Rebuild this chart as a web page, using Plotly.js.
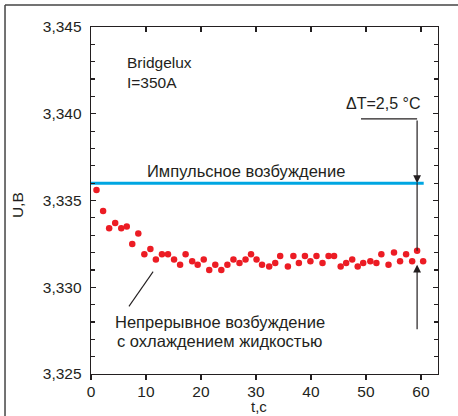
<!DOCTYPE html>
<html>
<head>
<meta charset="utf-8">
<script src="https://cdn.plot.ly/plotly-3.0.1.min.js"></script>
<style>
  html, body { margin: 0; padding: 0; background: #fff; }
  #chart { width: 458px; height: 416px; }
</style>
</head>
<body>
<div id="chart"></div>
<script>
// ---- data ----
const tSeries = [1.0, 2.2, 3.3, 4.4, 5.5, 6.5, 7.5, 8.6, 9.7, 10.8,
  11.8, 12.9, 14.0, 15.1, 16.2, 17.2, 18.4, 19.4, 20.5,
  21.5, 22.6, 23.7, 24.8, 25.9, 27.0, 28.1, 29.1, 30.1, 31.1,
  32.4, 33.5, 34.4, 35.8, 36.8, 37.8, 38.9, 39.9,
  41.0, 42.1, 43.2, 44.2, 45.4, 46.4, 47.5, 48.5, 49.5,
  50.8, 51.9, 52.8, 54.1, 55.1, 56.2, 57.3, 58.4, 59.3, 60.4];
const uContinuous = [3.3356, 3.3344, 3.3334, 3.3337, 3.3334, 3.3335, 3.3325, 3.3331, 3.3319, 3.3322,
  3.3316, 3.3319, 3.3319, 3.3316, 3.3313, 3.3319, 3.3315, 3.3313, 3.3316,
  3.3310, 3.3313, 3.3310, 3.3313, 3.3316, 3.3314, 3.3316, 3.3319, 3.3316, 3.3313,
  3.3312, 3.3314, 3.3318, 3.3312, 3.3318, 3.3314, 3.3318, 3.3315,
  3.3318, 3.3314, 3.3318, 3.3318, 3.3312, 3.3314, 3.3316, 3.3312, 3.3314,
  3.3315, 3.3314, 3.3319, 3.3313, 3.3320, 3.3315, 3.3319, 3.3315, 3.3321, 3.3315];
const tPulse = [0, 60.5];
const uPulse = [3.3360, 3.3360];

const xTicks = [0, 10, 20, 30, 40, 50, 60];
const yTicks = [3.325, 3.330, 3.335, 3.340, 3.345];

// annotation anchor values (data units)
const deltaT = { t: 59.3, uTop: 3.3397, uPulse: 3.3360, uDot: 3.3321, uArrowTip: 3.3313, uArrowTail: 3.3275, tLeft: 49.1 };
const leader = { t0: 6.9, u0: 3.3289, t1: 11.3, u1: 3.3309 };

const FONT = 'Liberation Sans, Arial, Helvetica, sans-serif';
const INK = '#231f20';
const FS = 15.5;
const FS_RU = 16.5;

const traces = [
  { x: tPulse, y: uPulse, mode: 'lines', line: { color: '#00a6e2', width: 3 },
    hoverinfo: 'skip', showlegend: false },
  { x: tSeries, y: uContinuous, mode: 'markers',
    marker: { color: '#ec1c24', size: 6.5, line: { width: 0 } },
    hoverinfo: 'skip', showlegend: false },
  { x: [0], y: [3.336], xaxis: 'x2', mode: 'none', hoverinfo: 'skip', showlegend: false }
];

const axisCommon = {
  showgrid: false, zeroline: false, showline: true,
  linecolor: INK, linewidth: 1.3, tickcolor: INK, tickwidth: 1.2,
  tickfont: { family: FONT, size: FS, color: INK }
};

const layout = {
  width: 458, height: 416,
  margin: { l: 91, r: 20, t: 27, b: 42, pad: 0 },
  paper_bgcolor: '#fff', plot_bgcolor: '#fff',
  separators: ',.',
  font: { family: FONT, size: FS, color: INK },
  showlegend: false,
  xaxis: Object.assign({}, axisCommon, {
    range: [0, 63.1], tickvals: xTicks, ticktext: xTicks.map(String),
    ticks: 'outside', ticklen: 5, mirror: false, ticklabelstandoff: -2
  }),
  xaxis2: Object.assign({}, axisCommon, {
    overlaying: 'x', side: 'top', range: [0, 63.1], tickvals: xTicks,
    ticks: 'inside', ticklen: 5, showticklabels: false
  }),
  yaxis: Object.assign({}, axisCommon, {
    range: [3.325, 3.345], tickvals: yTicks, tickformat: '.3f',
    ticks: 'inside', ticklen: 5, mirror: 'ticks', ticklabelstandoff: 5,
    minor: { dtick: 0.001, tick0: 3.325, ticks: 'inside', ticklen: 4, tickcolor: INK, tickwidth: 1.2 }
  }),
  shapes: [
    // outer frame (top & left only)
    { type: 'line', xref: 'paper', yref: 'paper', x0: -0.2478, x1: 1.1, y0: 1.0634, y1: 1.0634,
      line: { color: '#444', width: 1.5 } },
    { type: 'line', xref: 'paper', yref: 'paper', x0: -0.2478, x1: -0.2478, y0: -0.2, y1: 1.0634,
      line: { color: '#444', width: 1.5 } },
    // ΔT elbow line
    { type: 'line', xref: 'x', yref: 'y', x0: deltaT.tLeft, x1: deltaT.t, y0: deltaT.uTop, y1: deltaT.uTop,
      line: { color: INK, width: 1.2 } },
    { type: 'line', xref: 'x', yref: 'y', x0: deltaT.t, x1: deltaT.t, y0: deltaT.uPulse, y1: deltaT.uDot,
      line: { color: INK, width: 1.2 } },
    // leader line to the dots
    { type: 'line', xref: 'x', yref: 'y', x0: leader.t0, x1: leader.t1, y0: leader.u0, y1: leader.u1,
      line: { color: INK, width: 1.1 } }
  ],
  annotations: [
    { xref: 'x', yref: 'y', x: 6.2, y: 3.34240, text: 'Bridgelux<br>I=350A', showarrow: false,
      xanchor: 'left', yanchor: 'middle', align: 'left', font: { size: FS } },
    { xref: 'x', yref: 'y', x: 28.2, y: 3.33670, text: 'Импульсное возбуждение', showarrow: false,
      xanchor: 'center', yanchor: 'middle', font: { size: FS_RU } },
    { xref: 'x', yref: 'y', x: 53.1, y: 3.34058, text: 'ΔT=2,5 °C', showarrow: false,
      xanchor: 'center', yanchor: 'middle', font: { size: 16 } },
    { xref: 'x', yref: 'y', x: 23.4, y: 3.32800, text: 'Непрерывное возбуждение', showarrow: false,
      xanchor: 'center', yanchor: 'middle', font: { size: FS_RU } },
    { xref: 'x', yref: 'y', x: 23.4, y: 3.32690, text: 'с охлаждением жидкостью', showarrow: false,
      xanchor: 'center', yanchor: 'middle', font: { size: FS_RU } },
    { xref: 'x', yref: 'paper', x: 30.5, y: -0.121, text: 't,c', showarrow: false,
      xanchor: 'center', yanchor: 'bottom', borderpad: 0, font: { size: 15 } },
    { xref: 'paper', yref: 'paper', x: -0.213, y: 0.487, text: 'U,B', showarrow: false,
      textangle: -90, xanchor: 'center', yanchor: 'middle', font: { size: FS } },
    // arrows
    { xref: 'x', yref: 'y', axref: 'x', ayref: 'y', x: deltaT.t, y: deltaT.uPulse,
      ax: deltaT.t, ay: deltaT.uTop, showarrow: true, arrowhead: 2, arrowsize: 1.3,
      arrowwidth: 1.2, arrowcolor: INK, standoff: 0, text: '' },
    { xref: 'x', yref: 'y', axref: 'x', ayref: 'y', x: deltaT.t, y: deltaT.uArrowTip,
      ax: deltaT.t, ay: deltaT.uArrowTail, showarrow: true, arrowhead: 2, arrowsize: 1.3,
      arrowwidth: 1.2, arrowcolor: INK, standoff: 0, text: '' }
  ]
};

Plotly.newPlot('chart', traces, layout, { displayModeBar: false, staticPlot: true });
</script>
</body>
</html>
